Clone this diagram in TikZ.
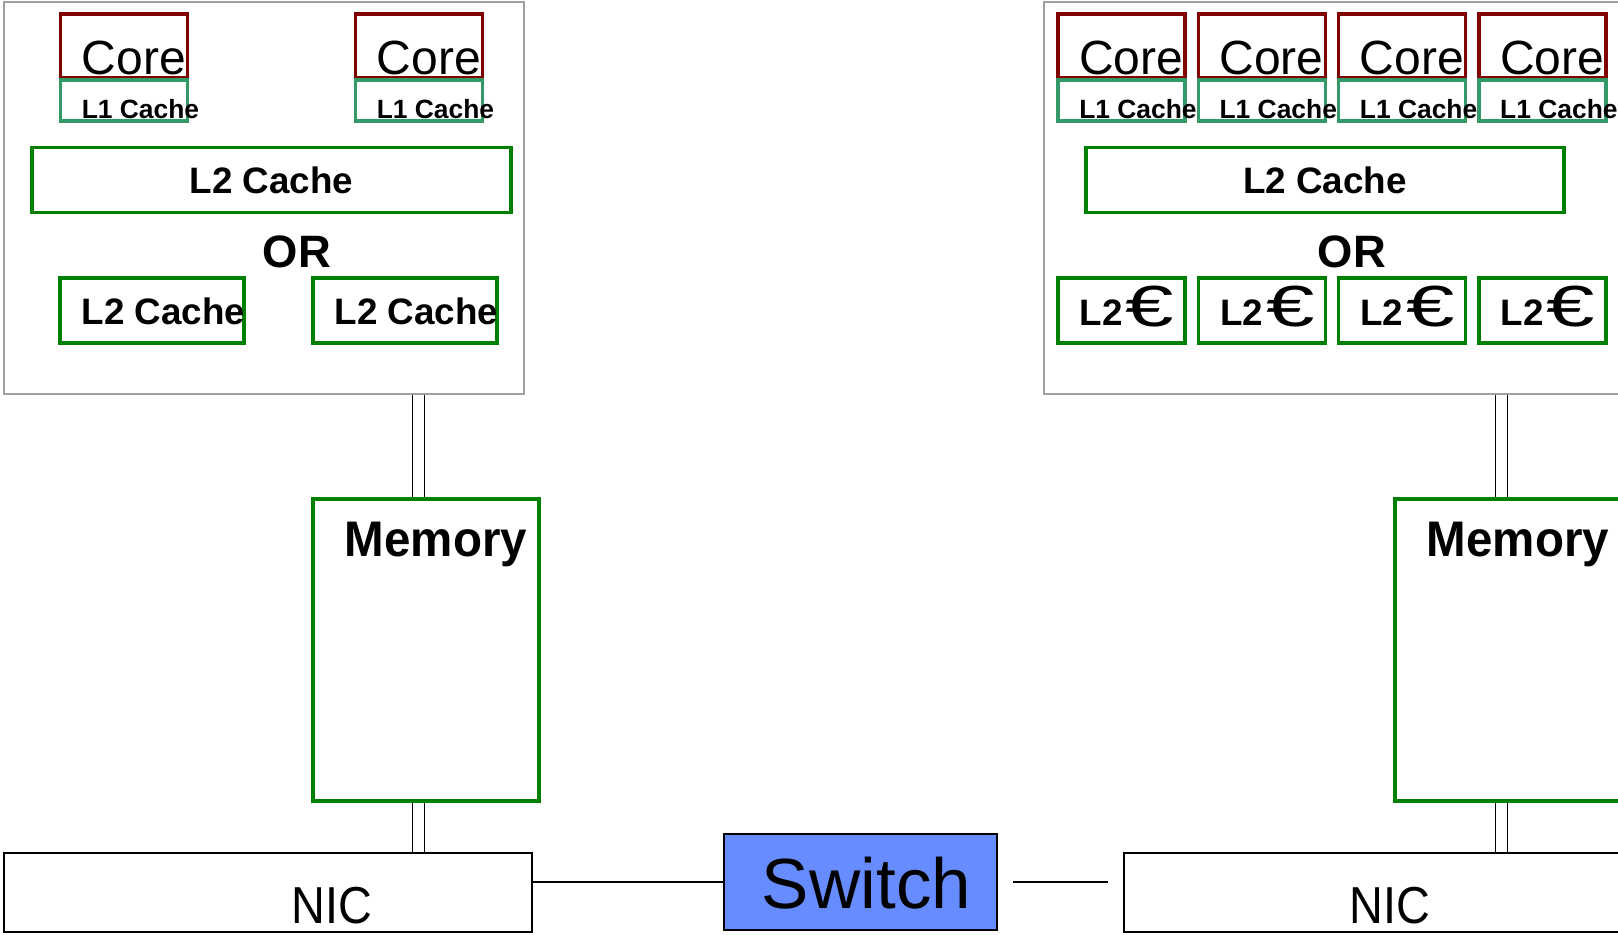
\documentclass[tikz,border=0pt]{standalone}
\usepackage{fontspec}
\usepackage{graphicx}
\setmainfont{Liberation Sans}
\usetikzlibrary{calc,backgrounds}

\definecolor{corered}{HTML}{800000}
\definecolor{lonegreen}{HTML}{339966}
\definecolor{ltwogreen}{HTML}{008000}
\definecolor{chipgray}{HTML}{A0A0A0}
\definecolor{switchblue}{HTML}{668CFF}

\tikzset{
  chip/.style={draw=chipgray, line width=0.9pt, inner sep=0pt, minimum height=196pt},
  corebox/.style={draw=corered, line width=1.6pt, inner sep=0pt, minimum width=63.5pt, minimum height=32pt},
  lonebox/.style={draw=lonegreen, line width=1.6pt, inner sep=0pt, minimum width=63.5pt, minimum height=20.5pt},
  ltwobox/.style={draw=ltwogreen, line width=1.6pt, inner sep=0pt, minimum height=32.5pt},
  membox/.style={draw=ltwogreen, line width=1.6pt, inner sep=0pt, minimum width=113pt, minimum height=151pt},
  nicbox/.style={draw=black, line width=1pt, inner sep=0pt, minimum width=264pt, minimum height=39.5pt},
  switchbox/.style={draw=black, fill=switchblue, line width=0.8pt, inner sep=0pt, minimum width=136.5pt, minimum height=48pt},
  bus/.style={draw=black, line width=0.8pt, double=white, double distance=5.2pt},
  link/.style={draw=black, line width=0.8pt},
  coretext/.style={anchor=base west, inner sep=0pt, font=\fontsize{24}{24}\selectfont},
  lonetext/.style={anchor=base west, inner sep=0pt, font=\fontsize{13.2}{13.2}\selectfont\bfseries},
  ltwotext/.style={anchor=base west, inner sep=0pt, font=\fontsize{18.4}{18.4}\selectfont\bfseries},
  ltwomid/.style={inner sep=0pt, font=\fontsize{18.4}{18.4}\selectfont\bfseries},
  eurotext/.style={anchor=base west, inner sep=0pt, font=\fontsize{29}{29}\selectfont},
  ortext/.style={inner sep=0pt, font=\fontsize{22.7}{22.7}\selectfont\bfseries},
  memtext/.style={anchor=base west, inner sep=0pt, font=\fontsize{25}{25}\selectfont\bfseries},
  nictext/.style={anchor=base west, inner sep=0pt, font=\fontsize{26}{26}\selectfont},
  switchtext/.style={anchor=base, inner sep=0pt, font=\fontsize{35.5}{35.5}\selectfont},
}

\begin{document}
\begin{tikzpicture}[x=0.5pt, y=-0.5pt]
  \clip (0,0) rectangle (1618,934);

  % ---------- dual-core processor ----------
  \node[chip, minimum width=260pt] (cpuL) at (264,198) {};
  \node[corebox] (lc1) at (124,46) {};
  \node[corebox] (lc2) at (419,46) {};
  \node[lonebox] (ll1) at (124,100.5) {};
  \node[lonebox] (ll2) at (419,100.5) {};
  \foreach \n in {1,2} {
    \node[coretext] at ($(lc\n.south west)+(22.5,-5.5)$) {Core};
    \node[lonetext] at ($(ll\n.south west)+(22.5,-4)$) {L1 Cache};
  }
  \node[ltwobox, minimum width=239.5pt] (lsh) at (271.5,180) {};
  \node[ltwomid] at (lsh.center) {L2 Cache};
  \node[ortext] (orL) at (297,252) {OR};
  \node[ltwobox, minimum width=92pt] (lp1) at (152,310.5) {};
  \node[ltwobox, minimum width=92pt] (lp2) at (405,310.5) {};
  \foreach \n in {1,2}
    \node[ltwotext] at ($(lp\n.south west)+(23,-20)$) {L2 Cache};

  % ---------- quad-core processor ----------
  \node[chip, minimum width=328pt] (cpuR) at (1372,198) {};
  \foreach \n in {1,...,4} {
    \pgfmathsetmacro{\cx}{1121.5+140.3*(\n-1)}
    \node[corebox] (rc\n) at (\cx,46) {};
    \node[lonebox] (rl\n) at (\cx,100.5) {};
    \node[ltwobox, minimum width=63.5pt] (rp\n) at (\cx,310.5) {};
    \node[coretext] at ($(rc\n.south west)+(22.5,-5.5)$) {Core};
    \node[lonetext] at ($(rl\n.south west)+(22.5,-4)$) {L1 Cache};
    \node[ltwotext] at ($(rp\n.south west)+(23,-19)$) {L2};
    \node[eurotext] at ($(rp\n.south west)+(69,-18)$) {\scalebox{1.5}[1]{€}};
  }
  \node[ltwobox, minimum width=239pt] (rsh) at (1325,180) {};
  \node[ltwomid] at (rsh.center) {L2 Cache};
  \node[ortext] (orR) at (1352,252) {OR};

  % ---------- memories ----------
  \node[membox] (memL) at (426,650) {};
  \node[memtext] at ($(memL.north west)+(33,59)$) {\scalebox{0.95}[1]{Memory}};
  \node[membox] (memR) at (1508,650) {};
  \node[memtext] at ($(memR.north west)+(33,59)$) {\scalebox{0.95}[1]{Memory}};

  % ---------- network ----------
  \node[nicbox] (nicL) at (268,892.5) {};
  \node[nictext] at ($(nicL.north west)+(288,71.6)$) {\scalebox{0.9}[1]{NIC}};
  \node[nicbox] (nicR) at (1388,892.5) {};
  \node[nictext] at ($(nicR.north west)+(226,71.6)$) {\scalebox{0.9}[1]{NIC}};
  \node[switchbox] (sw) at (860.5,882) {};
  \node[switchtext] at ($(sw.center)+(6,26)$) {Switch};

  \draw[link] (nicL.east |- sw.west) -- (sw.west);
  \draw[link, shorten <=7.5pt, shorten >=7.5pt] (sw.east) -- (sw.east -| nicR.west);

  % ---------- memory buses ----------
  \coordinate (busL) at (418.5,0);
  \coordinate (busR) at (1501.5,0);
  \begin{scope}[on background layer]
    \draw[bus] (busL |- cpuL.south) -- (busL |- memL.north);
    \draw[bus] (busL |- memL.south) -- (busL |- nicL.north);
    \draw[bus] (busR |- cpuR.south) -- (busR |- memR.north);
    \draw[bus] (busR |- memR.south) -- (busR |- nicR.north);
  \end{scope}
\end{tikzpicture}
\end{document}
